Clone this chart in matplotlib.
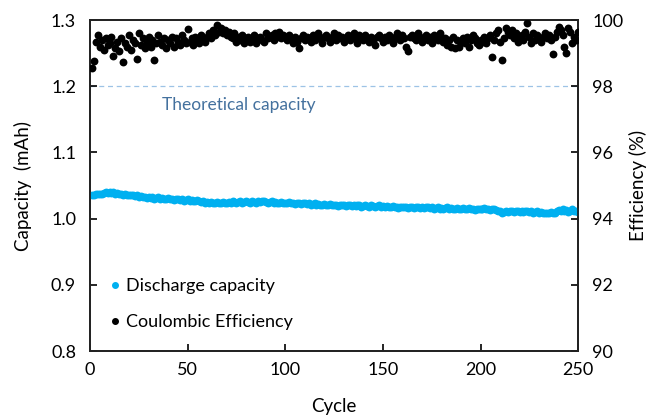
import matplotlib.pyplot as plt
from matplotlib.lines import Line2D

plt.rcParams['font.family'] = ['Lato', 'DejaVu Sans']

# cycle numbers
cycles = list(range(1, 251))

# discharge capacity (mAh)
capacity = [
    1.035, 1.036, 1.037, 1.038, 1.037, 1.038, 1.039, 1.040, 1.039, 1.040,
    1.039, 1.040, 1.038, 1.039, 1.037, 1.038, 1.036, 1.037, 1.035, 1.036,
    1.035, 1.036, 1.034, 1.035, 1.033, 1.034, 1.032, 1.033, 1.031, 1.032,
    1.031, 1.032, 1.030, 1.031, 1.032, 1.030, 1.031, 1.029, 1.030, 1.031,
    1.029, 1.030, 1.028, 1.029, 1.030, 1.028, 1.029, 1.027, 1.028, 1.029,
    1.027, 1.028, 1.026, 1.027, 1.028, 1.026, 1.025, 1.026, 1.024, 1.025,
    1.024, 1.025, 1.023, 1.024, 1.025, 1.023, 1.024, 1.025, 1.023, 1.024,
    1.025, 1.024, 1.026, 1.025, 1.024, 1.025, 1.026, 1.024, 1.025, 1.026,
    1.025, 1.024, 1.026, 1.025, 1.024, 1.026, 1.025, 1.027, 1.026, 1.025,
    1.024, 1.025, 1.026, 1.024, 1.025, 1.023, 1.024, 1.025, 1.024, 1.023,
    1.024, 1.025, 1.023, 1.024, 1.022, 1.023, 1.024, 1.022, 1.023, 1.024,
    1.022, 1.023, 1.021, 1.022, 1.023, 1.021, 1.022, 1.020, 1.021, 1.022,
    1.021, 1.020, 1.022, 1.021, 1.020, 1.021, 1.019, 1.020, 1.021, 1.020,
    1.019, 1.020, 1.021, 1.019, 1.020, 1.019, 1.021, 1.020, 1.018, 1.019,
    1.020, 1.019, 1.018, 1.020, 1.019, 1.018, 1.019, 1.020, 1.018, 1.019,
    1.018, 1.019, 1.017, 1.018, 1.019, 1.017, 1.018, 1.016, 1.017, 1.018,
    1.017, 1.018, 1.016, 1.017, 1.018, 1.016, 1.017, 1.018, 1.016, 1.017,
    1.016, 1.017, 1.018, 1.016, 1.017, 1.015, 1.016, 1.017, 1.015, 1.016,
    1.015, 1.016, 1.017, 1.015, 1.016, 1.014, 1.015, 1.016, 1.014, 1.015,
    1.016, 1.014, 1.015, 1.016, 1.014, 1.015, 1.013, 1.014, 1.015, 1.014,
    1.015, 1.016, 1.014, 1.015, 1.013, 1.014, 1.015, 1.013, 1.012, 1.011,
    1.009, 1.010, 1.011, 1.010, 1.012, 1.011, 1.010, 1.012, 1.011, 1.010,
    1.011, 1.010, 1.012, 1.011, 1.010, 1.011, 1.009, 1.010, 1.011, 1.009,
    1.010, 1.009, 1.008, 1.009, 1.008, 1.010, 1.009, 1.008, 1.011, 1.013,
    1.012, 1.014, 1.011, 1.013, 1.010, 1.012, 1.014, 1.011, 1.012, 1.010,
]

# coulombic efficiency (%)
efficiency = [
    98.55, 98.75, 99.35, 99.55, 99.20, 99.40, 99.10, 99.45, 99.25, 99.30,
    99.50, 98.90, 99.15, 99.35, 99.05, 99.45, 98.72, 99.30, 99.20, 99.55,
    99.10, 99.40, 99.30, 98.82, 99.62, 99.25, 99.45, 99.15, 99.35, 99.50,
    99.20, 99.40, 98.78, 99.30, 99.55, 99.35, 99.25, 99.45, 99.15, 99.40,
    99.30, 99.50, 99.20, 99.45, 99.35, 99.25, 99.55, 99.40, 99.30, 99.72,
    99.35, 99.45, 99.25, 99.50, 99.40, 99.30, 99.55, 99.45, 99.35, 99.50,
    99.60, 99.45, 99.70, 99.55, 99.85, 99.65, 99.75, 99.60, 99.70, 99.55,
    99.65, 99.50, 99.45, 99.60, 99.35, 99.50, 99.40, 99.55, 99.30, 99.45,
    99.50, 99.35, 99.40, 99.55, 99.30, 99.45, 99.50, 99.40, 99.35, 99.60,
    99.45, 99.50, 99.55, 99.40, 99.60, 99.50, 99.65, 99.45, 99.55, 99.50,
    99.40, 99.55, 99.45, 99.30, 99.50, 99.35, 99.15, 99.45, 99.55, 99.40,
    99.50, 99.45, 99.35, 99.55, 99.40, 99.50, 99.60, 99.45, 99.30, 99.50,
    99.55, 99.45, 99.35, 99.50, 99.60, 99.40, 99.55, 99.45, 99.50, 99.35,
    99.45, 99.55, 99.40, 99.50, 99.60, 99.45, 99.30, 99.55, 99.50, 99.40,
    99.55, 99.45, 99.35, 99.50, 99.40, 99.25, 99.50, 99.55, 99.45, 99.35,
    99.50, 99.40, 99.55, 99.45, 99.30, 99.50, 99.60, 99.45, 99.40, 99.55,
    99.45, 99.20, 99.05, 99.50, 99.55, 99.45, 99.40, 99.60, 99.50, 99.35,
    99.45, 99.55, 99.40, 99.50, 99.30, 99.55, 99.45, 99.40, 99.60, 99.50,
    99.35, 99.45, 99.25, 99.40, 99.20, 99.50, 99.15, 99.40, 99.20, 99.35,
    99.45, 99.30, 99.50, 99.20, 99.40, 99.55, 99.45, 99.30, 99.25, 99.40,
    99.35, 99.50, 99.30, 99.45, 99.55, 98.88, 99.40, 99.60, 99.70, 99.35,
    98.80, 99.45, 99.75, 99.65, 99.55, 99.70, 99.45, 99.60, 99.35, 99.50,
    99.55, 99.40, 99.65, 99.92, 99.50, 99.30, 99.60, 99.40, 99.55, 99.45,
    99.35, 99.50, 99.60, 99.45, 99.55, 99.40, 98.97, 99.50, 99.65, 99.80,
    99.70, 99.55, 99.20, 99.00, 99.75, 99.65, 99.30, 99.50, 99.40, 99.65,
]

theoretical = 1.2

fig = plt.figure(figsize=(6.54, 4.17), dpi=100)
ax = fig.add_axes([0.1376, 0.158, 0.7464, 0.794])
ax2 = ax.twinx()

ax.scatter(cycles, capacity, s=32, color='#00B0F0', linewidths=0, zorder=3)
ax2.scatter(cycles, efficiency, s=32, color='black', linewidths=0, zorder=3)

ax.axhline(theoretical, color='#9DC3E6', lw=0.9, ls=(0, (4, 3)), zorder=1)
ax.text(76, 1.171, 'Theoretical capacity', color='#44719E', fontsize=12.5,
        ha='center', va='center')

ax.set_xlim(0, 250)
ax.set_ylim(0.8, 1.3)
ax2.set_ylim(90, 100)
ax.set_xticks([0, 50, 100, 150, 200, 250])
ax.set_yticks([0.8, 0.9, 1.0, 1.1, 1.2, 1.3])
ax.set_yticklabels(['0.8', '0.9', '1.0', '1.1', '1.2', '1.3'])
ax2.set_yticks([90, 92, 94, 96, 98, 100])

ax.tick_params(axis='both', direction='in', length=5, width=1.2, labelsize=13, pad=8)
ax.tick_params(axis='y', pad=10)
ax2.tick_params(axis='y', direction='in', length=5, width=1.2, labelsize=13, pad=10)
for a in (ax, ax2):
    for sp in a.spines.values():
        sp.set_linewidth(1.3)
        sp.set_color('#222222')

ax.set_xlabel('Cycle', fontsize=13.5, labelpad=14)
ax.set_ylabel('Capacity  (mAh)', fontsize=13.5, labelpad=14)
ax2.set_ylabel('Efficiency (%)', fontsize=13.5, labelpad=4)

handles = [
    Line2D([], [], ls='none', marker='o', ms=4, color='#00B0F0'),
    Line2D([], [], ls='none', marker='o', ms=4, color='black'),
]
ax.legend(handles, ['Discharge capacity', 'Coulombic Efficiency'],
          loc='lower left', bbox_to_anchor=(0.0, 0.015), frameon=False,
          fontsize=13, handlelength=1.0, handletextpad=0.1, labelspacing=1.1)

fig.savefig('out.png', dpi=100)
